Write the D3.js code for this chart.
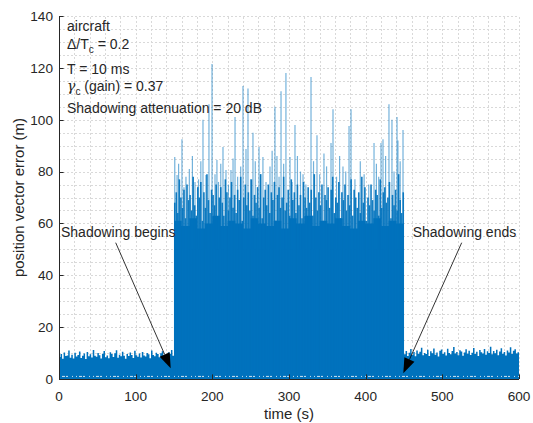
<!DOCTYPE html>
<html>
<head>
<meta charset="utf-8">
<script src="https://d3js.org/d3.v7.min.js"></script>
<style>
body { margin: 0; background: #fff; }
svg text { font-family: "Liberation Sans", Arial, sans-serif; fill: #262626; }
</style>
</head>
<body>
<svg width="533" height="423"></svg>
<script>
// axis ticks
var xTicks = [0, 100, 200, 300, 400, 500, 600];
var yTicks = [0, 20, 40, 60, 80, 100, 120, 140];

// before shadowing: top of the noise band, one value every 2 s from 0 s
var preTop = [8.5, 9.6, 7.8, 10.2, 8.9, 9.1, 11.0, 8.2, 9.4, 7.9,
  10.1, 8.7, 9.3, 10.6, 8.1, 9.0, 9.8, 7.7, 10.4, 8.8,
  9.5, 8.3, 11.2, 9.0, 8.6, 10.0, 9.2, 7.9, 9.7, 10.8,
  8.4, 9.1, 8.0, 10.3, 9.6, 8.5, 9.9, 11.1, 8.2, 9.4,
  8.8, 10.5, 9.0, 7.8, 9.6, 8.9, 10.2, 9.3, 8.1, 10.9,
  9.2, 8.6, 9.8, 8.3, 10.4, 9.1, 8.7, 10.0, 9.5, 8.0,
  11.0, 9.3, 8.8, 10.1, 9.6, 8.4, 9.9, 10.7, 8.9, 9.4,
  8.2, 10.3, 9.7, 11.2, 9.0];

// after shadowing: one value every 2 s from 450 s
var postTop = [9.5, 10.8, 8.9, 10.1, 11.6, 9.3, 10.4, 8.8, 11.0, 9.7,
  10.5, 12.1, 9.2, 10.0, 9.6, 11.3, 8.9, 10.7, 9.9, 11.8,
  9.4, 10.2, 8.7, 10.9, 11.4, 9.6, 10.3, 9.1, 11.7, 10.0,
  9.5, 10.8, 12.3, 9.8, 10.4, 9.2, 11.1, 10.6, 9.0, 10.2,
  11.5, 9.7, 10.9, 9.3, 10.1, 12.0, 9.6, 10.5, 8.9, 11.2,
  10.3, 9.8, 11.6, 9.4, 10.7, 10.0, 12.4, 9.5, 10.8, 9.9,
  11.3, 9.2, 10.6, 11.9, 9.7, 10.4, 9.1, 11.0, 10.2, 12.2,
  9.6, 10.9, 11.5, 9.8, 10.3, 11.1];

// during shadowing: solid core every 10 s from 150 s
var shadowCore = [61, 59, 62, 58, 60, 63, 59, 61, 60, 58,
  62, 60, 59, 61, 58, 62, 60, 63, 59, 61,
  60, 62, 59, 58, 61, 60, 62, 59, 61, 60, 59];

// during shadowing: peaks every 2 s from 150 s
var shadowPeaks = [68, 72, 64, 77, 70, 66, 73, 62, 75, 69,
  71, 65, 78, 67, 63, 74, 70, 76, 61, 72,
  66, 79, 69, 64, 73, 71, 67, 75, 62, 70,
  74, 68, 63, 77, 72, 65, 70, 76, 66, 71,
  64, 73, 69, 78, 61, 70, 75, 67, 72, 65,
  77, 63, 71, 68, 74, 66, 79, 62, 70, 73,
  67, 75, 64, 72, 69, 76, 61, 71, 74, 66,
  70, 78, 65, 68, 73, 63, 77, 69, 72, 64,
  75, 67, 71, 62, 76, 70, 66, 74, 68, 73,
  63, 79, 70, 65, 72, 67, 75, 61, 71, 69,
  74, 66, 73, 78, 64, 70, 68, 76, 62, 72,
  69, 75, 65, 71, 67, 77, 63, 73, 70, 66,
  72, 64, 78, 68, 74, 61, 70, 67, 75, 69,
  65, 73, 71, 63, 77, 66, 72, 74, 68, 70,
  76, 62, 71, 67, 73, 65, 79, 69, 64, 72];

// isolated spikes during shadowing
var spikeTimes = [151, 154, 160.4, 165.6, 177.4, 187.8, 191.7, 195.6, 199.6, 203.5,
  206, 213.9, 217.8, 224.3, 229.6, 240, 243.9, 246.5, 253, 260.9,
  266, 275.2, 281.7, 284.3, 289.6, 296, 301.3, 307.8, 318.3, 328.7,
  336.5, 345.6, 354.8, 357.4, 370.4, 378.3, 380.9, 410.9, 420, 422.6,
  430.4, 434.3, 440.9, 442.1, 448.7,
  156, 163, 170, 174, 182, 185, 208, 211, 221, 227,
  233, 237, 250, 256, 263, 270, 278, 287, 293, 304,
  311, 315, 322, 332, 340, 349, 362, 366, 374, 386,
  393, 398, 404, 414, 417, 426, 437, 445];
var spikeValues = [85.6, 78.7, 92.5, 78, 76, 100, 78.7, 106, 121.5, 79,
  84.5, 89.5, 80.6, 80.6, 101, 113, 88.7, 112, 95, 89.5,
  85.6, 82, 105, 86, 111, 118, 85.6, 98, 79, 116.5,
  94, 87, 91, 104, 82, 97.6, 104, 91, 91, 92.5,
  106, 100, 101, 92, 96,
  83, 74, 81, 86, 77, 84, 76, 83, 75, 85,
  78, 82, 77, 84, 79, 76, 88, 78, 83, 76,
  86, 80, 75, 84, 79, 82, 78, 86, 80, 77,
  84, 79, 75, 83, 78, 86, 80, 84];

var blue = "#0072BD";
var svg = d3.select("svg");

var x = d3.scaleLinear().domain([0, 600]).range([59, 519]);
var y = d3.scaleLinear().domain([0, 140]).range([379, 16]);

// grid (major + minor, dotted)
var grid = svg.append("g")
  .attr("stroke", "#d9d9d9")
  .attr("stroke-width", 1)
  .attr("stroke-dasharray", "2,2");
grid.selectAll(".gx").data(d3.range(20, 601, 20)).enter().append("line")
  .attr("x1", function(d) { return Math.round(x(d)) + 0.5; })
  .attr("x2", function(d) { return Math.round(x(d)) + 0.5; })
  .attr("y1", y(0)).attr("y2", y(140));
grid.selectAll(".gy").data(d3.range(5, 141, 5)).enter().append("line")
  .attr("x1", x(0)).attr("x2", x(600))
  .attr("y1", function(d) { return Math.round(y(d)) + 0.5; })
  .attr("y2", function(d) { return Math.round(y(d)) + 0.5; });

// noise band before / after shadowing
var pre = preTop.map(function(v, i) { return [i * 2, v]; });
pre.push([150, preTop[preTop.length - 1]]);
var post = postTop.map(function(v, i) { return [450 + i * 2, v]; });
post.push([600, postTop[postTop.length - 1]]);
var core = shadowCore.map(function(v, i) { return [150 + i * 10, v]; });

var band = d3.area().curve(d3.curveStepAfter)
  .x(function(d) { return x(d[0]); })
  .y0(y(0))
  .y1(function(d) { return y(d[1]); });

svg.append("path").datum(pre).attr("d", band).attr("fill", blue);
svg.append("path").datum(post).attr("d", band).attr("fill", blue);
svg.append("path").datum(core).attr("d", band).attr("fill", blue);

// shadowing peaks
svg.append("g").selectAll("line").data(shadowPeaks).enter().append("line")
  .attr("x1", function(d, i) { return x(150 + i * 2 + 1); })
  .attr("x2", function(d, i) { return x(150 + i * 2 + 1); })
  .attr("y1", y(0))
  .attr("y2", function(d) { return y(d); })
  .attr("stroke", blue)
  .attr("stroke-width", 1.6)
  .attr("stroke-opacity", 0.92);

// isolated spikes
svg.append("g").selectAll("line").data(spikeValues).enter().append("line")
  .attr("x1", function(d, i) { return x(spikeTimes[i]); })
  .attr("x2", function(d, i) { return x(spikeTimes[i]); })
  .attr("y1", y(50))
  .attr("y2", function(d) { return y(d); })
  .attr("stroke", blue)
  .attr("stroke-width", 1.2)
  .attr("stroke-opacity", 0.55);

// white speckle near the floor
svg.append("line")
  .attr("x1", x(0)).attr("x2", x(600))
  .attr("y1", y(1)).attr("y2", y(1))
  .attr("stroke", "#fff")
  .attr("stroke-width", 1)
  .attr("stroke-opacity", 0.8)
  .attr("stroke-dasharray", "1,2,3,1,2,4,1,3");

// axes
var axisColor = "#262626";
svg.append("line").attr("x1", x(0) + 0.5).attr("x2", x(0) + 0.5)
  .attr("y1", y(140)).attr("y2", y(0) + 0.5).attr("stroke", axisColor);
svg.append("line").attr("x1", x(0)).attr("x2", x(600))
  .attr("y1", y(0) + 0.5).attr("y2", y(0) + 0.5).attr("stroke", axisColor);

svg.selectAll(".yt").data(yTicks).enter().append("line")
  .attr("x1", x(0)).attr("x2", x(0) + 4.6)
  .attr("y1", function(d) { return Math.round(y(d)) + 0.5; })
  .attr("y2", function(d) { return Math.round(y(d)) + 0.5; })
  .attr("stroke", axisColor);
svg.selectAll(".xt").data(xTicks).enter().append("line")
  .attr("x1", function(d) { return Math.round(x(d)) + 0.5; })
  .attr("x2", function(d) { return Math.round(x(d)) + 0.5; })
  .attr("y1", y(0)).attr("y2", y(0) - 4.6)
  .attr("stroke", axisColor);

svg.selectAll(".ytl").data(yTicks).enter().append("text")
  .attr("x", 53)
  .attr("y", function(d) { return y(d) + 4.8; })
  .attr("text-anchor", "end")
  .attr("font-size", "13.6px")
  .text(function(d) { return d; });
svg.selectAll(".xtl").data(xTicks).enter().append("text")
  .attr("x", function(d) { return x(d); })
  .attr("y", 400.5)
  .attr("text-anchor", "middle")
  .attr("font-size", "13.6px")
  .text(function(d) { return d; });

svg.append("text")
  .attr("x", 289).attr("y", 419)
  .attr("text-anchor", "middle")
  .attr("font-size", "15px")
  .text("time (s)");
svg.append("text")
  .attr("transform", "translate(24,197.5) rotate(-90)")
  .attr("text-anchor", "middle")
  .attr("font-size", "15px")
  .text("position vector error (m)");

// parameter box
var info = svg.append("g").attr("font-size", "14px");
info.append("text").attr("x", 67).attr("y", 31).text("aircraft");
var l2 = info.append("text").attr("x", 67).attr("y", 49);
l2.append("tspan").text("\u0394/T");
l2.append("tspan").attr("font-size", "10px").attr("dy", 4).text("c");
l2.append("tspan").attr("dy", -4).text(" = 0.2");
info.append("text").attr("x", 67).attr("y", 74).text("T = 10 ms");
var l4 = info.append("text").attr("x", 67).attr("y", 90.5);
l4.append("tspan").attr("font-family", "'DejaVu Serif', serif").attr("font-style", "italic").text("\u03b3");
l4.append("tspan").attr("font-size", "10px").attr("dy", 4).text("c");
l4.append("tspan").attr("dy", -4).text(" (gain) = 0.37");
info.append("text").attr("x", 67).attr("y", 113).text("Shadowing attenuation = 20 dB");

// arrows
function arrow(x1, y1, x2, y2) {
  var a = Math.atan2(y2 - y1, x2 - x1), len = 15, w = 5.5;
  var bx = x2 - len * Math.cos(a), by = y2 - len * Math.sin(a);
  svg.append("line").attr("x1", x1).attr("y1", y1).attr("x2", bx).attr("y2", by)
    .attr("stroke", "#000").attr("stroke-width", 0.8);
  svg.append("path")
    .attr("d", "M" + x2 + "," + y2 +
      "L" + (bx + w * Math.sin(a)) + "," + (by - w * Math.cos(a)) +
      "L" + (bx - w * Math.sin(a)) + "," + (by + w * Math.cos(a)) + "Z")
    .attr("fill", "#000");
}
svg.append("text").attr("x", 61).attr("y", 237.3).attr("font-size", "14px").text("Shadowing begins");
arrow(115.7, 242.7, 170.7, 368.3);
svg.append("text").attr("x", 412.7).attr("y", 237.3).attr("font-size", "14px").text("Shadowing ends");
arrow(461.7, 242.7, 403.3, 373.3);
</script>
</body>
</html>
